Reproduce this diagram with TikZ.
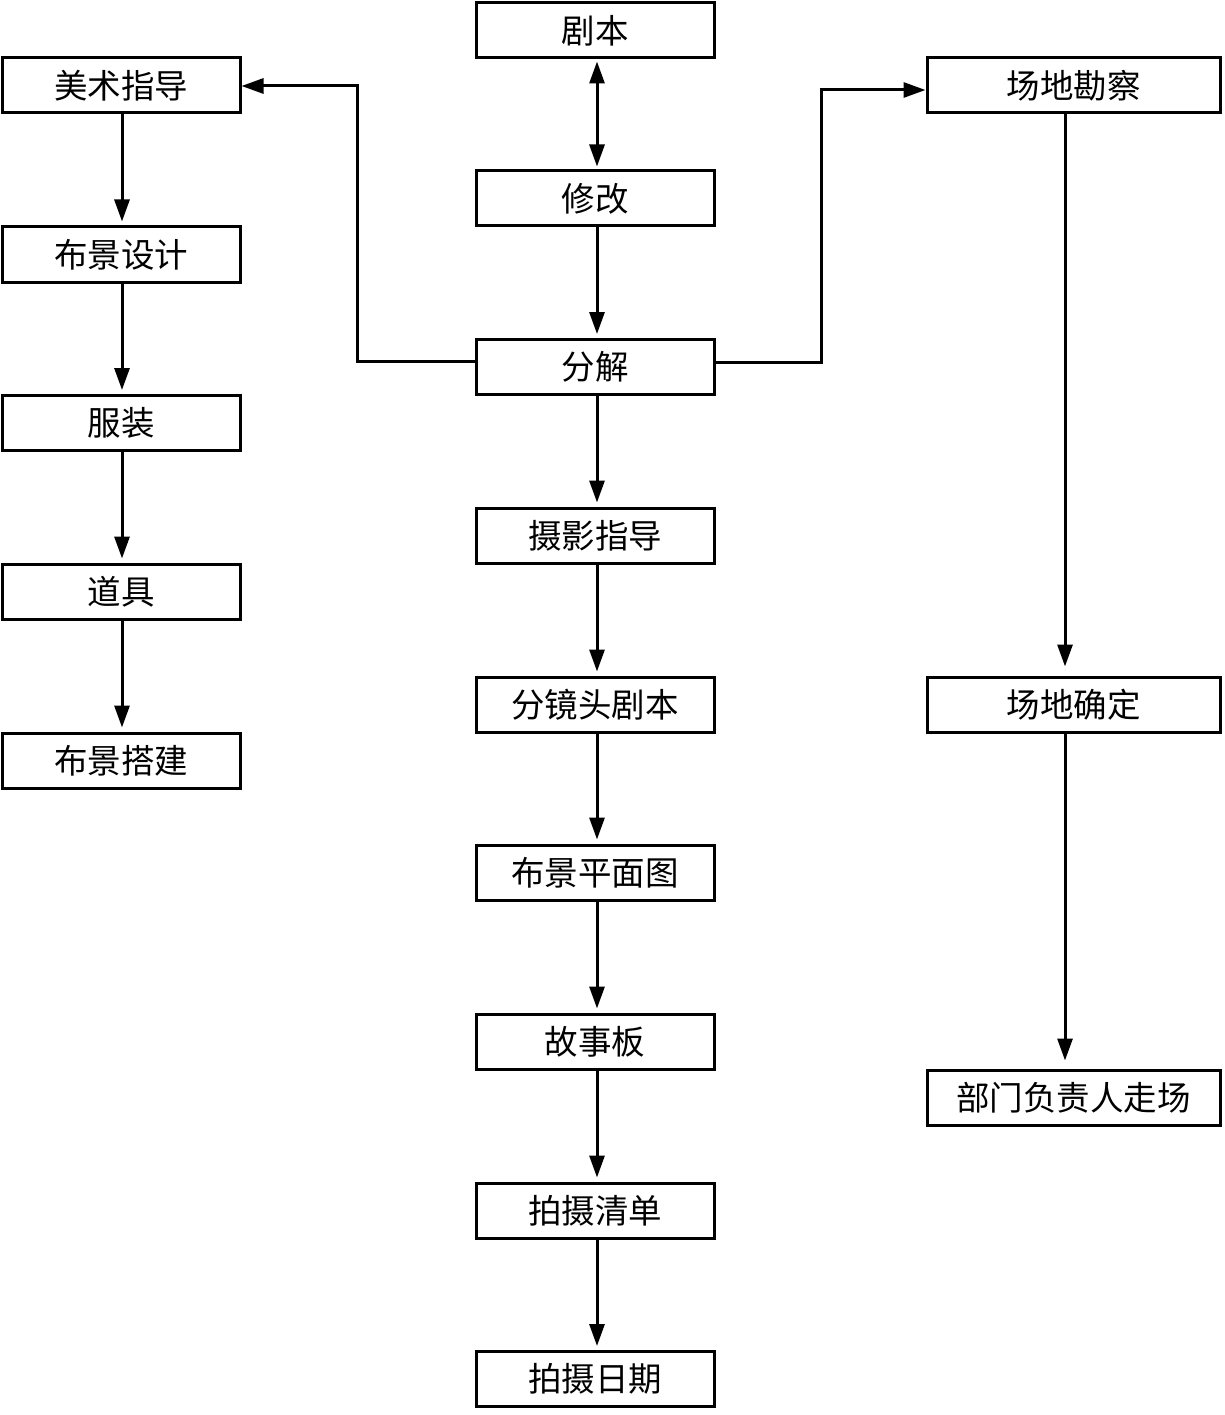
\documentclass[tikz,border=0pt]{standalone}
\usepackage{fontspec}
\setmainfont{Noto Sans CJK SC}
\usetikzlibrary{arrows.meta}
\begin{document}
\begin{tikzpicture}[x=1pt,y=-1pt,
  box/.style={draw,line width=3pt,minimum height=55pt,inner sep=0pt,font=\fontsize{33.5}{33.5}\selectfont},
  cbox/.style={box,minimum width=238pt},
  rbox/.style={box,minimum width=293pt},
  tip/.tip={Triangle[length=22pt,width=15pt]},
  arr/.style={line width=3pt,-tip},
  darr/.style={line width=3pt,tip-tip}]
\useasboundingbox (0,0) rectangle (1224,1415);
% centre column
\node[cbox] (juben) at (595,30.5) {剧本};
\node[cbox] (xiugai) at (595,198.5) {修改};
\node[cbox] (fenjie) at (595,367) {分解};
\node[cbox] (sheying) at (595,535.5) {摄影指导};
\node[cbox] (fenjing) at (595,704.5) {分镜头剧本};
\node[cbox] (pingmian) at (595,872.5) {布景平面图};
\node[cbox] (gushi) at (595,1041.5) {故事板};
\node[cbox] (qingdan) at (595,1210.5) {拍摄清单};
\node[cbox] (riqi) at (595,1379) {拍摄日期};
% left column
\node[cbox] (meishu) at (121,85.5) {美术指导};
\node[cbox] (sheji) at (121,254.5) {布景设计};
\node[cbox] (fuzhuang) at (121,423) {服装};
\node[cbox] (daoju) at (121,591.5) {道具};
\node[cbox] (dajian) at (121,760.5) {布景搭建};
% right column
\node[rbox] (kancha) at (1073.5,85.5) {场地勘察};
\node[rbox] (queding) at (1073.5,704.5) {场地确定};
\node[rbox] (zouchang) at (1073.5,1097.5) {部门负责人走场};
% helper coordinates
\coordinate (cx) at (597,0);
\coordinate (lx) at (122,0);
\coordinate (rx) at (1065,0);
\coordinate (yl) at (0,361);
\coordinate (yr) at (0,362);
\coordinate (kl) at (357,86);
\coordinate (kr) at (821,90);
% centre arrows
\draw[darr,shorten <=2pt,shorten >=3pt] (juben.south -| cx) -- (xiugai.north -| cx);
\draw[arr,shorten >=4pt] (xiugai.south -| cx) -- (fenjie.north -| cx);
\draw[arr,shorten >=4pt] (fenjie.south -| cx) -- (sheying.north -| cx);
\draw[arr,shorten >=4pt] (sheying.south -| cx) -- (fenjing.north -| cx);
\draw[arr,shorten >=4pt] (fenjing.south -| cx) -- (pingmian.north -| cx);
\draw[arr,shorten >=4pt] (pingmian.south -| cx) -- (gushi.north -| cx);
\draw[arr,shorten >=4pt] (gushi.south -| cx) -- (qingdan.north -| cx);
\draw[arr,shorten >=4pt] (qingdan.south -| cx) -- (riqi.north -| cx);
% left arrows
\draw[arr,shorten >=4pt] (meishu.south -| lx) -- (sheji.north -| lx);
\draw[arr,shorten >=4pt] (sheji.south -| lx) -- (fuzhuang.north -| lx);
\draw[arr,shorten >=4pt] (fuzhuang.south -| lx) -- (daoju.north -| lx);
\draw[arr,shorten >=4pt] (daoju.south -| lx) -- (dajian.north -| lx);
% right arrows
\draw[arr,shorten >=9pt] (kancha.south -| rx) -- (queding.north -| rx);
\draw[arr,shorten >=8pt] (queding.south -| rx) -- (zouchang.north -| rx);
% branches from 分解
\draw[arr] (fenjie.west |- yl) -| (kl) -- (meishu.east |- kl);
\draw[arr] (fenjie.east |- yr) -| (kr) -- (kancha.west |- kr);
\end{tikzpicture}
\end{document}
